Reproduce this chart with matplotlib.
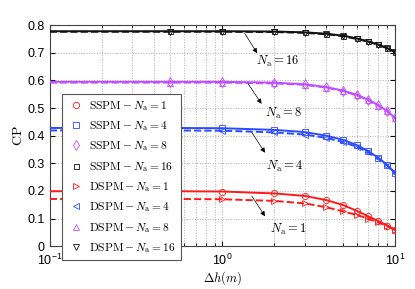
import matplotlib
matplotlib.use('Agg')
import matplotlib.pyplot as plt
from matplotlib.lines import Line2D

plt.rcParams['mathtext.fontset'] = 'cm'
plt.rcParams['font.family'] = 'Liberation Sans'

# Delta h values (m) and CP
dh = [0.1, 0.5, 1, 2, 3, 4, 5, 6, 7, 8, 9, 10]
sspm1 = [0.199, 0.199, 0.198, 0.191, 0.182, 0.167, 0.149, 0.128, 0.108, 0.091, 0.075, 0.058]
dspm1 = [0.171, 0.171, 0.170, 0.164, 0.155, 0.141, 0.126, 0.113, 0.100, 0.086, 0.073, 0.058]
sspm4 = [0.428, 0.428, 0.427, 0.421, 0.413, 0.400, 0.385, 0.366, 0.344, 0.320, 0.294, 0.265]
dspm4 = [0.419, 0.419, 0.418, 0.412, 0.404, 0.392, 0.377, 0.360, 0.340, 0.318, 0.292, 0.265]
sspm8 = [0.595, 0.595, 0.595, 0.592, 0.586, 0.576, 0.563, 0.548, 0.530, 0.511, 0.489, 0.464]
dspm8 = [0.592, 0.592, 0.592, 0.589, 0.584, 0.574, 0.561, 0.546, 0.528, 0.509, 0.488, 0.463]
sspm16 = [0.778, 0.778, 0.778, 0.777, 0.774, 0.769, 0.762, 0.752, 0.741, 0.730, 0.717, 0.703]
dspm16 = [0.776, 0.776, 0.776, 0.775, 0.772, 0.767, 0.760, 0.750, 0.740, 0.729, 0.716, 0.702]

na = [1, 4, 8, 16]
colors = ['#ff1a1a', '#2a4bff', '#c04dff', '#111111']
ss_markers = ['o', 's', 'd', 's']
ss_sizes = [4.5, 4.2, 5.0, 3.6]
ds_markers = ['>', '<', '^', 'v']
ss_data = [sspm1, sspm4, sspm8, sspm16]
ds_data = [dspm1, dspm4, dspm8, dspm16]

fig = plt.figure(figsize=(4.15, 2.89), dpi=100)
ax = fig.add_axes([0.12, 0.148, 0.832, 0.765])

for i in range(4):
    ax.plot(dh, ss_data[i], '-', color=colors[i], lw=1.4, zorder=3)
    ax.plot(dh, ds_data[i], '--', color=colors[i], lw=1.4, zorder=3)
    ax.plot(dh[1:], ss_data[i][1:], ls='none', marker=ss_markers[i], mfc='none',
            mec=colors[i], ms=ss_sizes[i], mew=0.6, zorder=4)
    ax.plot(dh[1:], ds_data[i][1:], ls='none', marker=ds_markers[i], mfc='none',
            mec=colors[i], ms=4.5, mew=0.6, zorder=4)

ax.set_xscale('log')
ax.set_xlim(0.1, 10)
ax.set_ylim(0, 0.8)
ax.set_yticks([0, 0.1, 0.2, 0.3, 0.4, 0.5, 0.6, 0.7, 0.8])
ax.set_yticklabels(['0', '0.1', '0.2', '0.3', '0.4', '0.5', '0.6', '0.7', '0.8'])
ax.grid(True, which='both', ls=':', color='#b0b0b0', lw=0.7)
ax.tick_params(which='both', direction='in', top=True, right=True, labelsize=9)
ax.tick_params(axis='x', pad=5)
for s in ax.spines.values():
    s.set_color('#444444')

ax.set_xlabel(r'$\Delta h(m)$', fontsize=9, labelpad=0.5)
ax.set_ylabel(r'$\mathrm{CP}$', fontsize=10, labelpad=2)

# arrows and labels
ann = [(1.32, 0.779, 1.62, 0.69, 2.1, 0.668, 16),
       (1.38, 0.596, 1.72, 0.507, 2.25, 0.479, 8),
       (1.45, 0.42, 1.8, 0.33, 2.3, 0.289, 4),
       (1.45, 0.19, 1.8, 0.1, 2.4, 0.061, 1)]
for x0, y0, x1, y1, tx, ty, n in ann:
    ax.annotate('', xy=(x1, y1), xytext=(x0, y0),
                arrowprops=dict(arrowstyle='-|>', color='k', lw=0.5,
                                mutation_scale=7))
    ax.text(tx, ty, r'$N_\mathrm{a}=%d$' % n, fontsize=9, ha='center', va='center')

handles = []
for i in range(4):
    handles.append(Line2D([], [], ls='none', marker=ss_markers[i], mfc='none',
                          mec=colors[i], ms=ss_sizes[i], mew=0.6,
                          label=r'$\mathrm{SSPM}-N_\mathrm{a}=%d$' % na[i]))
for i in range(4):
    handles.append(Line2D([], [], ls='none', marker=ds_markers[i], mfc='none',
                          mec=colors[i], ms=4.5, mew=0.6,
                          label=r'$\mathrm{DSPM}-N_\mathrm{a}=%d$' % na[i]))
leg = ax.legend(handles=handles, loc='upper left', bbox_to_anchor=(0.035, 0.69),
                borderaxespad=0, fontsize=8.3, labelspacing=0.55, handletextpad=0.3,
                borderpad=0.45, handlelength=1.6, fancybox=False, framealpha=1,
                edgecolor='#555555')
leg.get_frame().set_linewidth(0.8)

fig.savefig('out.png', dpi=100)
